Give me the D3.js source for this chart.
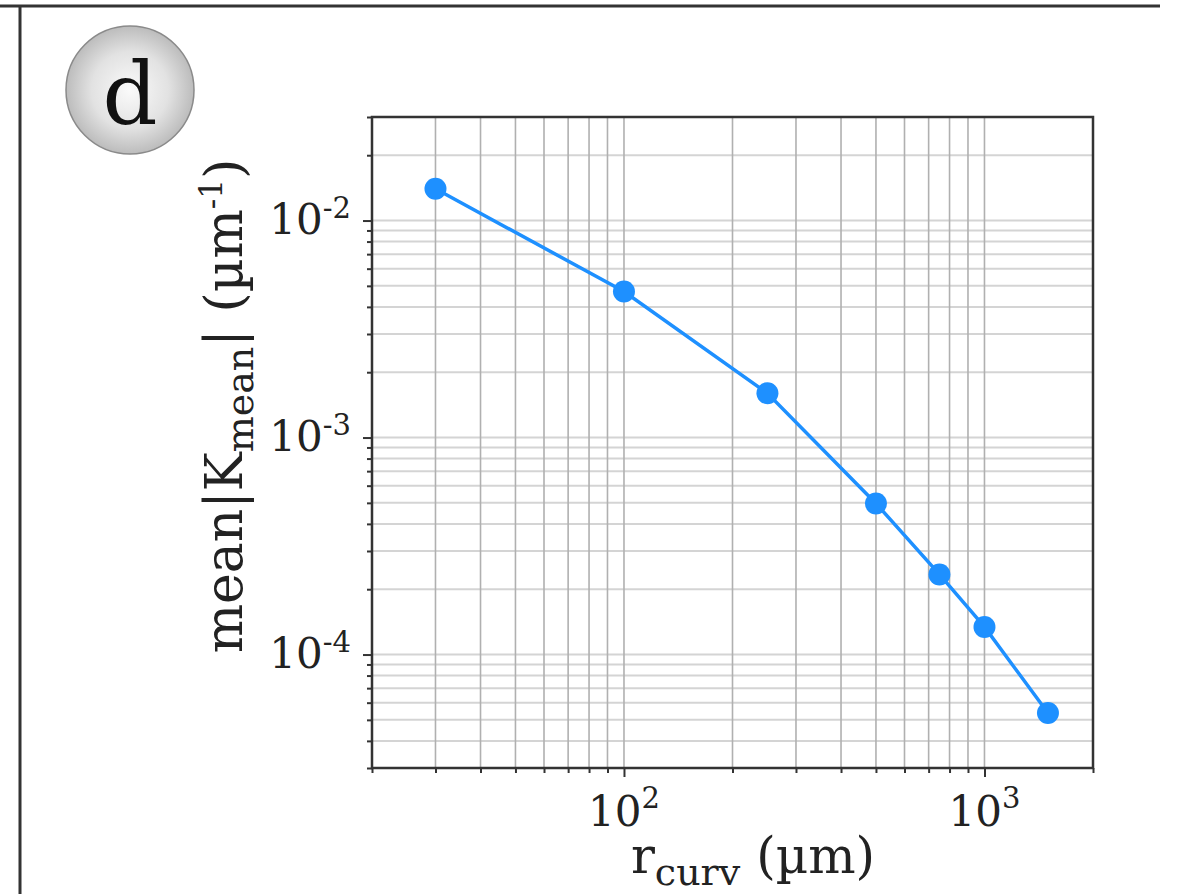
<!DOCTYPE html>
<html>
<head>
<meta charset="utf-8">
<script src="https://cdn.jsdelivr.net/npm/d3@7.9.0/dist/d3.min.js"></script>
<style>
  html, body { margin: 0; padding: 0; background: #fff; }
  svg { display: block; }
  text { font-family: "DejaVu Serif", serif; fill: #222; }
</style>
</head>
<body>
<svg id="chart" width="1180" height="894"></svg>
<script>
// data
const rCurv = [30, 100, 250, 500, 750, 1000, 1500];
const kMean = [0.0140, 0.00471, 0.00160, 0.000497, 0.000234, 0.000134, 0.0000538];
const xMajor = [100, 1000];
const yMajor = [1e-4, 1e-3, 1e-2];
const xLabels = ['2', '3'];
const yLabels = ['-4', '-3', '-2'];

const svg = d3.select('#chart');
const W = 1180, H = 894;
const m = { left: 372, top: 117, right: 1093, bottom: 768 };

// panel frame
svg.append('line').attr('x1', 0).attr('x2', 1160).attr('y1', 6).attr('y2', 6)
  .attr('stroke', '#333').attr('stroke-width', 3);
svg.append('line').attr('x1', 20).attr('x2', 20).attr('y1', 6).attr('y2', H)
  .attr('stroke', '#333').attr('stroke-width', 3);

// panel letter
const grad = svg.append('defs').append('radialGradient')
  .attr('id', 'ball').attr('cx', '50%').attr('cy', '50%').attr('r', '50%');
grad.append('stop').attr('offset', '0%').attr('stop-color', '#fafafa');
grad.append('stop').attr('offset', '60%').attr('stop-color', '#e2e2e2');
grad.append('stop').attr('offset', '100%').attr('stop-color', '#bcbcbc');
svg.append('circle').attr('cx', 130).attr('cy', 90).attr('r', 64)
  .attr('fill', 'url(#ball)').attr('stroke', '#8a8a8a').attr('stroke-width', 1.5);
svg.append('text').attr('x', 130).attr('y', 124).attr('text-anchor', 'middle')
  .attr('font-size', 86).style('fill', '#111').text('d');

const x = d3.scaleLog().domain([20, 2000]).range([m.left, m.right]);
const y = d3.scaleLog().domain([3e-5, 3e-2]).range([m.bottom, m.top]);

// minor positions for log decades
function minors(lo, hi) {
  const out = [];
  for (let e = Math.floor(Math.log10(lo)); e <= Math.ceil(Math.log10(hi)); e++) {
    for (let k = 2; k <= 9; k++) {
      const v = k * Math.pow(10, e);
      if (v >= lo * 0.999 && v <= hi * 1.001) out.push(v);
    }
  }
  return out;
}
const xMinor = minors(20, 2000);
const yMinor = minors(3e-5, 3e-2);

// grid
const grid = svg.append('g');
grid.selectAll('.hg').data(yMajor.concat(yMinor)).join('line')
  .attr('x1', m.left).attr('x2', m.right)
  .attr('y1', d => y(d)).attr('y2', d => y(d))
  .attr('stroke', '#d4d4d4').attr('stroke-width', 2);
grid.selectAll('.vg').data(xMajor.concat(xMinor)).join('line')
  .attr('y1', m.top).attr('y2', m.bottom)
  .attr('x1', d => x(d)).attr('x2', d => x(d))
  .attr('stroke', '#b0b0b0').attr('stroke-width', 1.6);

// axes
const xAxis = svg.append('g').attr('transform', `translate(0,${m.bottom})`)
  .call(d3.axisBottom(x).tickValues(xMajor).tickSize(9).tickFormat(''));
const xAxisMinor = svg.append('g').attr('transform', `translate(0,${m.bottom})`)
  .call(d3.axisBottom(x).tickValues(xMinor).tickSize(5).tickFormat(''));
const yAxis = svg.append('g').attr('transform', `translate(${m.left},0)`)
  .call(d3.axisLeft(y).tickValues(yMajor).tickSize(9).tickFormat(''));
const yAxisMinor = svg.append('g').attr('transform', `translate(${m.left},0)`)
  .call(d3.axisLeft(y).tickValues(yMinor).tickSize(5).tickFormat(''));
[xAxis, xAxisMinor, yAxis, yAxisMinor].forEach(g => {
  g.select('.domain').remove();
  g.selectAll('line').attr('stroke', '#333').attr('stroke-width', 2);
});

// tick labels
xMajor.forEach((v, i) => {
  const t = svg.append('text').attr('x', x(v)).attr('y', 826)
    .attr('text-anchor', 'middle').attr('font-size', 42);
  t.append('tspan').text('10');
  t.append('tspan').attr('font-size', 29).attr('dy', -18).text(xLabels[i]);
});
yMajor.forEach((v, i) => {
  const t = svg.append('text').attr('x', 351).attr('y', y(v) + 13)
    .attr('text-anchor', 'end').attr('font-size', 42);
  t.append('tspan').text('10');
  t.append('tspan').attr('font-size', 29).attr('dy', -16).text(yLabels[i]);
});

// frame of axes
svg.append('rect').attr('x', m.left).attr('y', m.top)
  .attr('width', m.right - m.left).attr('height', m.bottom - m.top)
  .attr('fill', 'none').attr('stroke', '#333').attr('stroke-width', 2.5);

// series
const pts = rCurv.map((r, i) => [r, kMean[i]]);
svg.append('path').datum(pts)
  .attr('d', d3.line().x(d => x(d[0])).y(d => y(d[1])))
  .attr('fill', 'none').attr('stroke', '#1e90ff').attr('stroke-width', 3.5);
svg.selectAll('.dot').data(pts).join('circle')
  .attr('cx', d => x(d[0])).attr('cy', d => y(d[1])).attr('r', 11)
  .attr('fill', '#1e90ff');

// axis titles
const xt = svg.append('text').attr('x', 753).attr('y', 873)
  .attr('text-anchor', 'middle').attr('font-size', 50);
xt.append('tspan').text('r');
xt.append('tspan').attr('font-size', 38).attr('dy', 12).text('curv');
xt.append('tspan').attr('dy', -12).text(' (µm)');

const yt = svg.append('text')
  .attr('transform', 'translate(242,406) rotate(-90)')
  .attr('text-anchor', 'middle').attr('font-size', 52);
yt.append('tspan').text('mean|K');
yt.append('tspan').attr('font-size', 38).attr('dy', 11).text('mean');
yt.append('tspan').attr('dy', -11).text('| (µm');
yt.append('tspan').attr('font-size', 31).attr('dy', -20).text('-1');
yt.append('tspan').attr('dy', 20).text(')');
</script>
</body>
</html>
